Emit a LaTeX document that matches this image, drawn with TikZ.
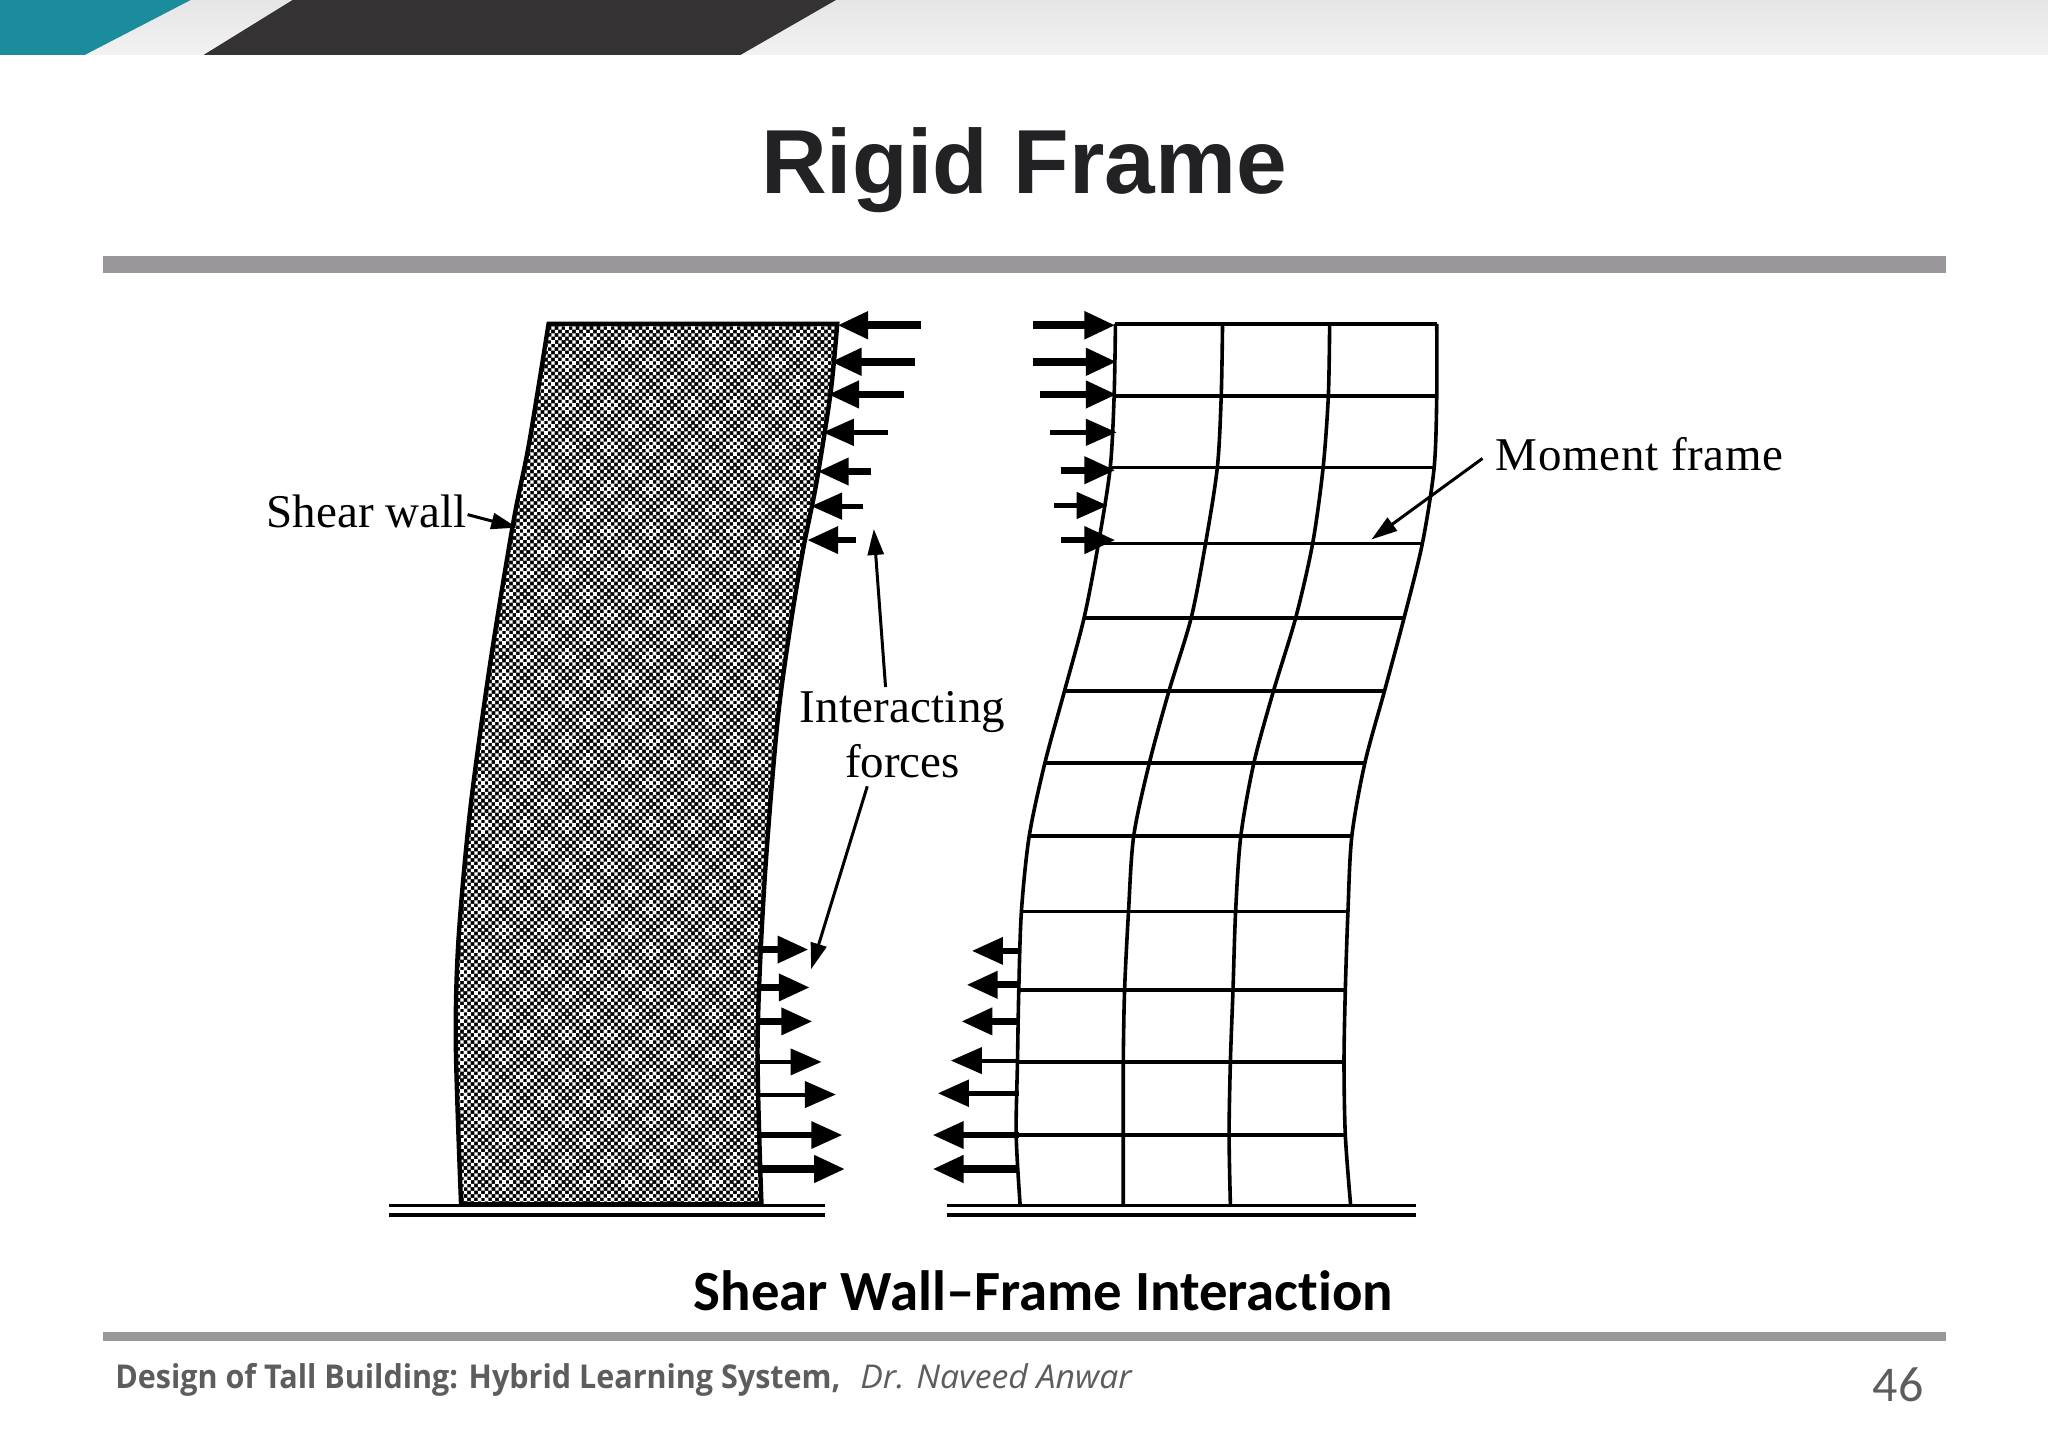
\documentclass[tikz,border=0pt]{standalone}
\usepackage{fontspec}
\setmainfont{Liberation Serif}
\newfontfamily\titlefont{Liberation Sans}
\newfontfamily\capfont[Ligatures=NoCommon]{Carlito}
\newfontfamily\footfont{Open Sans}
\usetikzlibrary{arrows.meta,patterns}
\definecolor{teal1}{HTML}{1A8C9C}
\definecolor{dark1}{HTML}{343232}
\definecolor{bar1}{HTML}{999799}
\definecolor{foot1}{HTML}{5E5C5E}
\definecolor{title1}{HTML}{222124}
\pgfdeclarepatternformonly{wallchecks}{\pgfqpoint{-2pt}{-2pt}}{\pgfqpoint{44pt}{44pt}}{\pgfqpoint{42pt}{42pt}}{%
 \foreach \r in {0,...,23}{
  \foreach \c in {0,...,11}{
   \pgfmathsetmacro\xx{\c*3.5+mod(\r,2)*1.75}
   \pgfmathsetmacro\yy{\r*1.75}
   \pgfmathsetmacro\ss{0.84+0.05*(cos(17.142857*(\xx+\yy))+cos(17.142857*(\xx-\yy)))}
   \pgfpathrectangle{\pgfpoint{\xx pt-\ss pt}{\yy pt-\ss pt}}{\pgfpoint{2*\ss pt}{2*\ss pt}}
  }}
 \pgfusepath{fill}
}
\tikzset{
  barline/.style={fill=bar1,draw=none},
  wallline/.style={line width=2.2pt,black},
  frameline/.style={line width=1.8pt,black},
  groundline/.style={line width=1.8pt,black},
  force/.style={line width=#1,-{Triangle[length=15.5pt,width=13pt]},black},
  leader/.style={line width=1.5pt,-{Triangle[length=13pt,width=8pt]},black},
  fig/.style={inner sep=0pt,black,font=\fontsize{23.5}{27}\selectfont},
}
\begin{document}
\begin{tikzpicture}[x=0.653061pt,y=-0.653061pt]
\useasboundingbox (0,0) rectangle (1568,1097.9);
\fill[white] (0,0) rectangle (1568,1097.9);
% banner
\shade[top color=black!10,bottom color=black!5] (0,0) rectangle (1568,42);
\fill[teal1] (0,0) -- (146,0) -- (65,42) -- (0,42) -- cycle;
\fill[dark1] (224,0) -- (640,0) -- (567,42) -- (156,42) -- cycle;
% title and bars
\node[inner sep=0pt,text=title1,font=\titlefont\bfseries\fontsize{45.5}{50}\selectfont] (title) at (784,130) {Rigid Frame};
\fill[barline] (79,196) rectangle (1490,209);
\fill[barline] (79,1020) rectangle (1490,1027);
% wall
\def\wallpath{plot[smooth,tension=0.5] coordinates {(420,248)(405,340)(393,400)(375,510)(360,620)(351,720)(349,800)(353,922)}
 -- plot[smooth,tension=0.5] coordinates {(583,922)(580,800)(585,680)(595,555)(605,480)(615,420)(625,370)(636,300)(641,248)} -- cycle}
\fill[black] \wallpath;
\fill[pattern=wallchecks,pattern color=white] \wallpath;
\draw[wallline] \wallpath;
% frame joints
\foreach \i/\y/\a/\b/\c/\d in {
0/248/854/936/1018/1100,1/303/853/935/1017/1100,2/358/850/932/1013/1098,3/416/841/923/1005/1089,
4/473/830/912/992/1075,5/529/815/895/975/1060,6/584/800/880/960/1045,7/640/788/868/950/1035,
8/698/782/864/946/1032,9/758/780/861/944/1030,10/813/779/860/942/1029,11/869/778/860/941/1030,12/922/781/860/942/1034}{
 \coordinate (a\i) at (\a,\y);\coordinate (b\i) at (\b,\y);\coordinate (c\i) at (\c,\y);\coordinate (d\i) at (\d,\y);
}
\foreach \i in {0,...,11}{\draw[frameline] (a\i) -- (d\i);}
\foreach \k in {a,b,c,d}{
 \draw[frameline] plot[smooth,tension=0.5] coordinates {(\k0)(\k1)(\k2)(\k3)(\k4)(\k5)(\k6)(\k7)(\k8)(\k9)(\k10)(\k11)(\k12)};
}
% ground
\draw[groundline] (298,923) -- (632,923);
\draw[groundline] (298,930) -- (632,930);
\draw[groundline] (725,923) -- (1084,923);
\draw[groundline] (725,930) -- (1084,930);
% forces, upper
\foreach \w/\y/\t/\h in {4pt/249/705/641,3.8pt/277/700.5/636,3.6pt/302/692/634,2.4pt/331/680/630,3.4pt/361/667/626,2.4pt/387.5/661/621,3.4pt/413.5/655/618}{
 \draw[force=\w] (\t,\y) -- (\h,\y);}
\foreach \w/\y/\t/\h in {4pt/249/791/854,3.8pt/277/791/855,3.6pt/302/796/855,2.4pt/331/804/855,3.4pt/360/812/854,2.4pt/387/807/848,3.4pt/413.5/812/854}{
 \draw[force=\w] (\t,\y) -- (\h,\y);}
% forces, lower
\foreach \w/\y/\t/\h in {3.4pt/727/580/619,3.4pt/756/580/620,3.2pt/782/580/622,2pt/813/580/629,2pt/838/580/640,3pt/869/582/645,3.6pt/895/582/647}{
 \draw[force=\w] (\t,\y) -- (\h,\y);}
\foreach \w/\y/\t/\h in {3pt/728/780/744,3.4pt/754/780/740,3.4pt/782/780/736,2pt/812/780/728,2.6pt/837/780/718,3.2pt/869/780/714,3.6pt/895/780/714}{
 \draw[force=\w] (\t,\y) -- (\h,\y);}
% labels
\node[fig,anchor=base west] (shear) at (204,404) {Shear wall};
\node[fig,anchor=base west] (moment) at (1145,360) {\addfontfeature{LetterSpace=1.5}Moment frame};
\node[fig,anchor=base] (inter) at (691,553) {\addfontfeature{LetterSpace=0.5}Interacting};
\node[fig,anchor=base] (forces) at (691,595) {forces};
\coordinate (shearTip) at (396,404);
\coordinate (momentTip) at (1050,413);
\coordinate (upTip) at (669,405);
\coordinate (downTip) at (621,742);
\draw[leader] (358,394) -- (shearTip);
\draw[leader] (1135,351) -- (momentTip);
\draw[leader] (678,526) -- (upTip);
\draw[leader] (664,602) -- (downTip);
% captions
\node[inner sep=0pt,anchor=base,font=\capfont\bfseries\fontsize{28.4}{32}\selectfont,black] (caption) at (799,1003) {Shear Wall–Frame Interaction};
\node[inner sep=0pt,anchor=base west,text=foot1,font=\footfont\fontsize{16.4}{19}\selectfont] (foot) at (88,1063) {\scalebox{0.93}[1]{\bfseries Design of Tall Building: Hybrid Learning System,}\hspace{0.6em}\scalebox{1.03}[1]{\itshape Dr. Naveed Anwar}};
\node[inner sep=0pt,anchor=base east,text=foot1,font=\capfont\fontsize{25}{30}\selectfont] (page) at (1473,1073) {46};
\end{tikzpicture}
\end{document}
